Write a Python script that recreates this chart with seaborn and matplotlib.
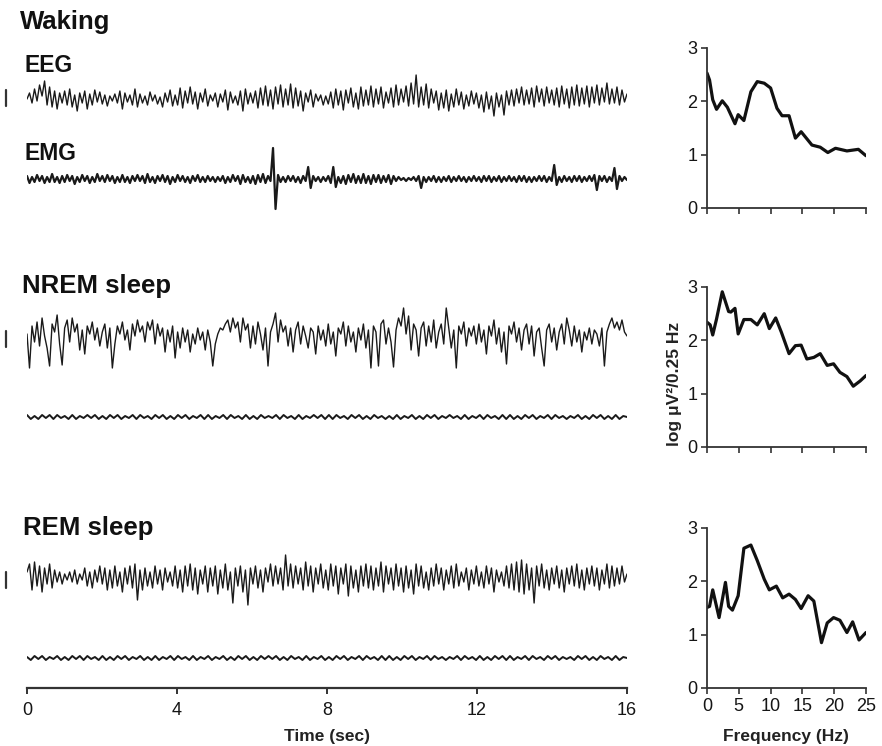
import numpy as np
import matplotlib
matplotlib.use("Agg")
import matplotlib.pyplot as plt
import seaborn as sns

# ---- traces (arbitrary amplitude units, + = up) ----
EEG_RATE = 15   # samples / sec
EMG_RATE_WAKE = 15
EMG_RATE_SLEEP = 10

eeg_wake = [
    0, 6, -4, 10, -2, 14, 3, 18, -6, 12, -8, 8, -10, 6, -4,
    8, -6, 10, -8, 4, -12, 6, -4, 8, -10, 5, -6, 9, -3, 7,
    -5, 4, -7, 3, -2, 5, -4, 8, -10, 6, -3, 4, -6, 10, -8,
    5, -4, 3, -6, 7, -2, 4, -5, 2, -8, 6, -3, 9, -7, 4,
    -6, 11, -9, 8, -4, 12, -5, 7, -10, 6, -3, 10, -7, 4, -2,
    6, -8, 5, -3, 9, -11, 7, -4, 3, -6, 8, -12, 10, -5, 6,
    -4, 8, -9, 11, -6, 13, -7, 9, -10, 12, -5, 14, -8, 10, -6,
    15, -9, 11, -7, 8, -12, 6, -3, 9, -8, 5, -2, 4, -6, 3,
    -5, 7, -9, 10, -6, 8, -11, 9, -4, 11, -8, 6, -10, 12, -7,
    9, -6, 13, -8, 10, -5, 12, -9, 7, -4, 11, -8, 14, -6, 10,
    -3, 13, -7, 16, -5, 24, -8, 12, -6, 15, -9, 10, -4, 8, -11,
    6, -9, 9, -12, 5, -8, 10, -6, 7, -10, 4, -7, 8, -5, 6,
    -9, 4, -13, 7, -10, 3, -17, 6, -8, 4, -16, 8, -6, 9, -7,
    10, -4, 12, -6, 9, -5, 11, -8, 13, -3, 10, -7, 12, -4, 9,
    -6, 11, -8, 13, -5, 10, -9, 12, -6, 14, -7, 11, -5, 13, -8,
    12, -4, 14, -6, 11, -3, 16, -5, 10, -4, 12, -6, 9, -3, 5,
]

emg_wake = [
    3, -4, 2, -3, 4, -2, 3, -4, 2, -3, 5, -3, 2, -4, 3,
    -3, 4, -2, 3, -5, 2, -3, 4, -2, 3, -4, 2, -3, 5, -2,
    3, -3, 4, -2, 3, -4, 2, -3, 4, -3, 2, -4, 3, -2, 4,
    -2, 3, -4, 5, -3, 2, -4, 3, -2, 4, -3, 3, -5, 2, -3,
    4, -2, 3, -3, 2, -4, 3, -2, 4, -3, 2, -3, 3, -2, 2,
    -3, 2, -2, 3, -4, 2, -3, 4, -2, 3, -5, 4, -3, 2, -4,
    3, -5, 4, -3, 5, -4, 3, -2, 31, -30, 4, -3, 2, -3, 3,
    -2, 3, -3, 2, -4, 3, -2, 12, -9, 3, -2, 2, -3, 2, -2,
    3, -4, 12, -8, 2, -4, 3, -5, 4, -3, 5, -4, 3, -4, 5,
    -4, 3, -5, 4, -3, 4, -4, 3, -3, 4, -5, 3, -2, 2, -1,
    1, -2, 1, -1, 2, -2, 3, -9, 2, -3, 2, -2, 3, -3, 2,
    -3, 2, -2, 3, -3, 2, -2, 3, -2, 2, -3, 2, -2, 3, -2,
    2, -3, 3, -2, 3, -3, 2, -2, 3, -3, 2, -2, 3, -2, 2,
    -3, 3, -2, 3, -3, 2, -3, 2, -2, 3, -2, 3, -3, 2, -2,
    14, -6, 2, -3, 3, -2, 2, -3, 3, -2, 3, -3, 2, -2, 3,
    -2, 4, -11, 3, -2, 3, -3, 2, -2, 11, -10, 3, -2, 2, -1,
]

eeg_nrem = [
    4, -30, 12, -4, 16, -8, 20, 2, -10, -28, 14, 6, 23, -6, -27,
    10, 18, -4, 20, 6, 14, -12, 8, -16, 12, 4, 16, -2, 10, -8,
    6, 14, -10, 10, -30, -6, 12, 4, 16, -2, 8, -12, 14, 2, 18,
    6, 12, -4, 16, 8, 18, -6, 14, 2, 10, -14, 8, -4, 12, -20,
    6, -10, 10, -4, 8, -14, 4, -6, 10, -2, 6, -12, 8, -4, -28,
    -6, 4, 10, 8, 14, 18, 6, 20, 10, 16, -4, 20, 8, 14, -10,
    12, -6, 16, 4, -12, 10, -28, 6, 14, 25, -4, 18, 6, 12, -8,
    10, -14, 8, 16, -6, 12, 2, -10, 10, 6, -16, 12, -2, 8, -8,
    14, -6, 6, -18, 10, 4, 16, -8, 12, -4, 6, -14, 10, -2, 14,
    -10, 8, -30, 12, 6, -28, 14, 18, -6, 10, -4, -29, 8, 20, 12,
    30, 4, 22, -12, 14, 8, -18, 10, 16, -8, 12, -4, 18, -10, 6,
    14, -6, 30, 10, -10, 8, -30, 12, 4, 16, -8, 10, 2, 12, -6,
    14, -4, 8, -16, 12, 2, 18, -6, 10, -14, 6, -26, 12, 4, 16,
    -4, 10, -12, 8, 14, -6, 12, -18, 6, 10, -10, -28, 8, 14, -4,
    10, -12, 6, 14, -6, 20, 8, -8, 12, -4, 8, -14, 6, -2, 10,
    -6, 8, 4, -8, 10, -28, 6, 14, 20, 10, 16, 8, 18, 6, 2,
]

emg_nrem = [
    2, -2, 1, -2, 2, -1, 2, -2, 2, -1, 1, -2, 2, -2, 1, -1,
    2, -1, 2, -2, 1, -2, 2, -1, 2, -2, 1, -1, 2, -2, 2, -1,
    1, -2, 2, -1, 2, -2, 1, -2, 2, -1, 2, -2, 1, -1, 2, -2,
    2, -2, 1, -1, 2, -2, 2, -1, 1, -2, 2, -2, 1, -2, 2, -1,
    1, -1, 2, -2, 2, -1, 1, -2, 2, -2, 1, -1, 2, -1, 2, -2,
    2, -2, 2, -1, 1, -2, 2, -1, 2, -2, 1, -2, 2, -1, 1, -2,
    1, -2, 2, -2, 1, -1, 2, -2, 1, -2, 2, -1, 2, -2, 1, -1,
    2, -1, 1, -2, 2, -2, 1, -1, 2, -2, 2, -1, 1, -2, 2, -2,
    2, -2, 1, -2, 2, -1, 2, -2, 1, -1, 2, -2, 2, -1, 1, -2,
    1, -1, 2, -2, 1, -2, 2, -1, 2, -2, 1, -2, 2, -2, 1, 0,
]

eeg_rem = [
    6, 14, -12, 16, -8, 12, -14, 10, -6, 14, -10, 8, -4, 6, -6,
    4, -2, 6, -4, 8, -6, 4, -2, 10, -8, 6, -10, 8, -4, 12,
    -6, 10, -12, 8, -10, 12, -8, 6, -14, 10, -6, 12, -10, 14, -22,
    8, -12, 10, -8, 6, -10, 12, -6, 8, -12, 10, -4, 6, -8, 12,
    -10, 8, -14, 12, -8, 14, -12, 10, -16, 8, -6, 12, -14, 10, -8,
    12, -16, 8, -10, 14, -12, 6, -25, 10, -8, 12, -14, 8, -27, 10,
    -6, 12, -10, 8, -14, 10, -4, 14, -8, 12, -6, 10, -12, 23, -8,
    14, -10, 12, -6, 10, -12, 16, -8, 12, -14, 10, -6, 14, -10, 8,
    -12, 14, -8, 12, -16, 10, -6, 14, -18, 12, -10, 8, -14, 12, -8,
    14, -10, 12, -12, 10, -8, 16, -14, 12, -6, 10, -12, 14, -8, 10,
    -14, 12, -10, 8, -16, 14, -8, 12, -10, 6, -12, 10, -8, 14, -6,
    10, -12, 8, -6, 12, -10, 14, -8, 6, -4, 10, -12, 8, -6, 12,
    -8, 6, -10, 12, -6, 10, -14, 8, -4, 6, -8, 12, -10, 14, -12,
    16, -14, 18, -16, 14, -12, 10, -25, 12, -8, 14, -10, 8, -12, 10,
    -6, 12, -10, 8, -14, 10, -6, 12, -8, 14, -10, 8, -12, 10, -6,
    12, -8, 10, -12, 8, -6, 14, -10, 12, -8, 10, -6, 12, -4, 4,
]

emg_rem = [
    1, -2, 2, -1, 2, -2, 1, -1, 2, -2, 1, -2, 2, -1, 2, -2,
    2, -1, 1, -2, 2, -2, 1, -2, 2, -1, 2, -2, 1, -1, 2, -2,
    1, -2, 2, -2, 1, -1, 2, -2, 2, -1, 1, -2, 2, -2, 1, -1,
    2, -2, 1, -1, 2, -2, 1, -2, 2, -1, 2, -2, 1, -2, 2, -1,
    2, -1, 2, -2, 1, -2, 2, -1, 1, -2, 2, -2, 1, -1, 2, -2,
    1, -2, 2, -1, 2, -2, 1, -1, 2, -2, 2, -1, 1, -2, 2, -2,
    2, -2, 1, -2, 2, -1, 2, -2, 1, -1, 2, -2, 2, -1, 1, -2,
    1, -1, 2, -2, 2, -1, 1, -2, 2, -2, 1, -2, 2, -1, 2, -2,
    2, -2, 1, -1, 2, -2, 2, -1, 1, -2, 2, -1, 2, -2, 1, -1,
    1, -2, 2, -1, 2, -2, 1, -2, 2, -1, 1, -2, 2, -2, 1, 0,
]

CAL_BAR = 16  # calibration bar, same units as the traces

# ---- power spectra ----
freq_wake = [0, 0.4, 0.9, 1.5, 2.4, 3.2, 4.4, 4.9, 5.8, 6.9, 7.9, 9, 10, 11, 11.8,
             12.9, 13.9, 14.8, 16.5, 17.8, 19, 20.2, 22, 23.8, 25]
pow_wake = [2.53, 2.40, 2.03, 1.85, 2.01, 1.89, 1.58, 1.75, 1.64, 2.18, 2.37, 2.34, 2.25,
            1.87, 1.73, 1.73, 1.31, 1.43, 1.18, 1.14, 1.04, 1.12, 1.07, 1.10, 0.98]

freq_nrem = [0, 0.5, 0.9, 1.5, 2.4, 3.4, 3.75, 4.4, 4.9, 5.8, 6.9, 7.9, 9, 9.8, 10.8,
             11.7, 12.9, 13.9, 14.8, 15.7, 16.8, 17.8, 18.9, 19.9, 20.9, 22, 23, 24.1, 25]
pow_nrem = [2.34, 2.29, 2.10, 2.40, 2.91, 2.54, 2.53, 2.60, 2.12, 2.39, 2.39, 2.29, 2.50,
            2.22, 2.42, 2.15, 1.75, 1.90, 1.91, 1.65, 1.68, 1.75, 1.53, 1.56, 1.40, 1.32,
            1.14, 1.24, 1.34]

freq_rem = [0, 0.4, 0.9, 1.9, 2.9, 3.4, 4, 4.9, 5.8, 6.9, 7.9, 9, 9.8, 10.9, 11.9,
            12.9, 13.9, 14.8, 15.9, 16.8, 18, 18.9, 19.9, 20.9, 22, 22.9, 23.9, 25]
pow_rem = [1.51, 1.53, 1.84, 1.32, 1.98, 1.53, 1.46, 1.73, 2.62, 2.68, 2.39, 2.04, 1.84,
           1.91, 1.69, 1.76, 1.66, 1.49, 1.73, 1.63, 0.85, 1.22, 1.32, 1.27, 1.04, 1.24,
           0.90, 1.04]

time_ticks = [0, 4, 8, 12, 16]
freq_ticks = [0, 5, 10, 15, 20, 25]
pow_ticks = [0, 1, 2, 3]

# ---- figure ----
sns.set_theme(style="ticks")
plt.rcParams['font.family'] = ['Liberation Sans', 'DejaVu Sans']

W, H = 882, 746
fig = plt.figure(figsize=(W / 100, H / 100), dpi=100)


def px_axes(x0, y0, x1, y1):
    # box given in pixels from the top-left corner
    return fig.add_axes([x0 / W, 1 - y1 / H, (x1 - x0) / W, (y1 - y0) / H])


def px_text(x, y, s, **kw):
    return fig.text(x / W, 1 - y / H, s, **kw)


ink = '#1a1a1a'

# left panel: raw traces on a shared time axis (y in pixel rows)
ax = px_axes(27, 0, 627, 688)
ax.set_xlim(0, 16)
ax.set_ylim(688, 0)

traces = [
    (eeg_wake, EEG_RATE, 99, 1.0),
    (emg_wake, EMG_RATE_WAKE, 179, 1.6),
    (eeg_nrem, EEG_RATE, 338, 1.0),
    (emg_nrem, EMG_RATE_SLEEP, 417, 1.4),
    (eeg_rem, EEG_RATE, 578, 1.0),
    (emg_rem, EMG_RATE_SLEEP, 658, 1.4),
]
for vals, rate, base, lw in traces:
    v = np.asarray(vals, float)
    t = np.arange(len(v)) / rate
    t = t * 16 / t[-1]
    sns.lineplot(x=t, y=base - v, ax=ax, color=ink, lw=lw,
                 estimator=None, sort=False, legend=False)

# calibration bars next to the EEG traces
for base in [98, 339, 580]:
    ax.plot([-0.56, -0.56], [base - CAL_BAR / 2, base + CAL_BAR / 2],
            color='#333333', lw=1.6, clip_on=False)

for side in ['left', 'right', 'top']:
    ax.spines[side].set_visible(False)
ax.spines['bottom'].set_linewidth(1.6)
ax.spines['bottom'].set_color('#333333')
ax.set_yticks([])
ax.set_xticks(time_ticks)
ax.set_xticklabels([str(v) for v in time_ticks])
ax.tick_params(axis='x', length=4, width=1.4, pad=6, labelsize=13,
               color='#333333', labelcolor='#151515')
ax.set_xlabel('')
ax.set_ylabel('')
ax.patch.set_alpha(0)

# right panels: spectra
spectra = [(freq_wake, pow_wake, 48), (freq_nrem, pow_nrem, 287), (freq_rem, pow_rem, 528)]
for i, (f, p, top) in enumerate(spectra):
    axr = px_axes(707, top, 866, top + 160)
    sns.lineplot(x=f, y=p, ax=axr, color='#111111', lw=2.3,
                 estimator=None, sort=False, legend=False)
    axr.set_xlim(0, 25)
    axr.set_ylim(0, 3)
    axr.set_xticks(freq_ticks)
    axr.set_yticks(pow_ticks)
    sns.despine(ax=axr)
    for side in ['left', 'bottom']:
        axr.spines[side].set_linewidth(1.3)
        axr.spines[side].set_color('#333333')
    axr.tick_params(length=4, width=1.2, pad=3, labelsize=13,
                    color='#333333', labelcolor='#151515')
    if i < 2:
        axr.set_xticklabels([])
    axr.set_xlabel('')
    axr.set_ylabel('')
    axr.patch.set_alpha(0)

# labels
px_text(20, 29, 'Waking', fontsize=18.5, weight='bold', color='#111111', va='baseline')
px_text(24, 72, 'EEG', fontsize=16.5, weight='bold', color='#111111', va='baseline')
px_text(24, 160, 'EMG', fontsize=16.5, weight='bold', color='#111111', va='baseline')
px_text(22, 293, 'NREM sleep', fontsize=18.5, weight='bold', color='#111111', va='baseline')
px_text(23, 535, 'REM sleep', fontsize=18.5, weight='bold', color='#111111', va='baseline')

px_text(327, 741, 'Time (sec)', fontsize=12.5, weight='bold', color='#222222',
        ha='center', va='baseline')
px_text(786, 741, 'Frequency (Hz)', fontsize=12.5, weight='bold', color='#222222',
        ha='center', va='baseline')
px_text(675, 384, 'log μV²/0.25 Hz', fontsize=12.5, weight='bold', color='#222222',
        rotation=90, ha='center', va='center')

fig.savefig('out.png', dpi=100, facecolor='white')
